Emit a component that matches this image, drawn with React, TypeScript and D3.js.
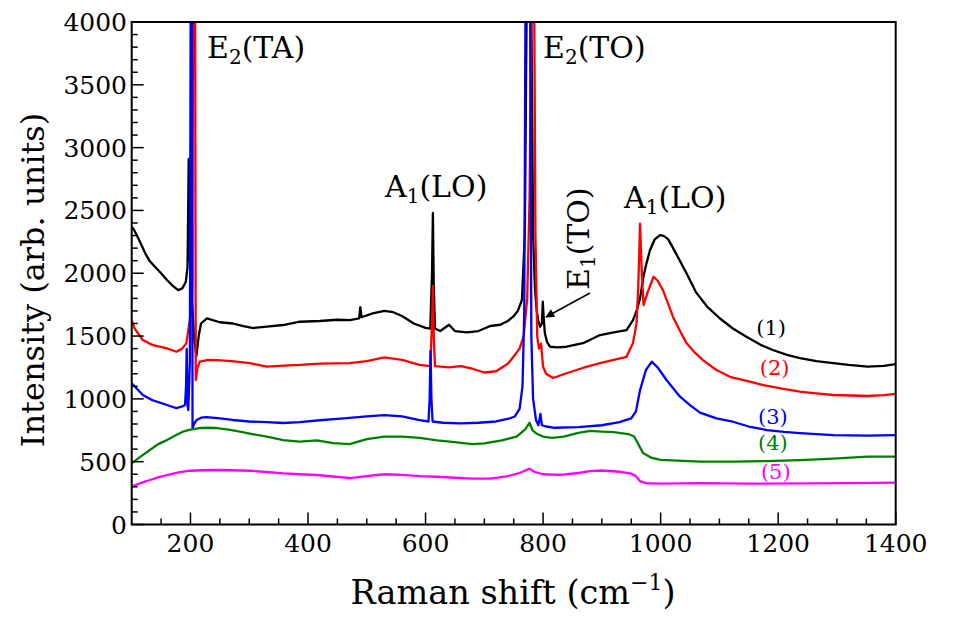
import React from 'react';
import * as d3 from 'd3';

const W = 959;
const H = 638;
const xDomain: [number, number] = [100, 1400];
const yDomain: [number, number] = [0, 4000];
const xMajorTicks = [200, 400, 600, 800, 1000, 1200, 1400];
const yMajorTicks = [0, 500, 1000, 1500, 2000, 2500, 3000, 3500, 4000];

// (1) black
const series1: [number, number][] = [
  [100, 2370], [104, 2345], [110, 2290], [117, 2220], [124, 2150], [131, 2095], [140, 2050], [150, 2000], [160, 1946], [170, 1900],
  [179, 1866], [186, 1880], [192, 1930], [195, 2050], [197, 2910], [198.5, 2100], [200, 2300], [202, 1800],
  [206, 1500], [210, 1340], [214, 1500], [218, 1600], [228, 1640], [250, 1610], [272, 1600], [290, 1580],
  [307, 1564], [330, 1575], [358, 1588], [386, 1614], [420, 1620], [450, 1630], [471, 1627], [487, 1640],
  [489, 1730], [491, 1650], [510, 1680], [530, 1700], [545, 1690], [560, 1660], [580, 1600], [600, 1565],
  [608, 1560], [611, 2000], [612.5, 2480], [614, 1900], [616, 1560], [625, 1540], [640, 1590], [650, 1540],
  [670, 1530], [690, 1540], [710, 1580], [727, 1590], [740, 1620], [749, 1654], [757, 1700], [764, 1787],
  [769, 2320], [772, 4100], [776, 7000], [780, 4100], [783, 2300], [786, 1900], [789, 1707], [792, 1620],
  [795, 1574], [798, 1600], [799.5, 1773], [801, 1650], [803, 1522], [807, 1450], [812, 1415], [825, 1410],
  [840, 1415], [868, 1443], [897, 1508], [920, 1530], [942, 1548], [953, 1627], [959, 1700], [965, 1800],
  [971, 1980], [976, 2080], [982, 2185], [990, 2270], [999, 2304], [1006, 2295], [1013, 2270], [1027, 2150],
  [1044, 2000], [1060, 1850], [1080, 1730], [1101, 1640], [1123, 1560], [1146, 1495], [1170, 1430],
  [1191, 1389], [1215, 1350], [1237, 1325], [1265, 1300], [1294, 1285], [1320, 1270], [1352, 1256],
  [1380, 1262], [1400, 1277],
];

// (2) red
const series2: [number, number][] = [
  [100, 1627], [105, 1560], [119, 1468], [135, 1430], [160, 1402], [176, 1375], [186, 1400], [193, 1444],
  [198, 1600], [201, 1700], [203, 1900], [204.5, 4100], [206.5, 6000], [208, 4100], [209, 1150], [212, 1250],
  [216, 1296], [230, 1310], [245, 1309], [270, 1300], [301, 1285], [330, 1256], [358, 1265], [386, 1270],
  [420, 1280], [471, 1285], [500, 1300], [530, 1330], [560, 1310], [590, 1270], [608, 1260], [611, 1600],
  [612.5, 1900], [614, 1500], [616, 1260], [640, 1250], [660, 1260], [680, 1240], [700, 1210], [720, 1220],
  [740, 1280], [752, 1350], [760, 1400], [767, 1500], [773, 1800], [777, 2600], [780, 4100], [782.5, 7000],
  [785, 4100], [787, 2300], [790, 1500], [793, 1400], [796.5, 1440], [800, 1256], [805, 1200], [817, 1166],
  [840, 1204], [870, 1250], [897, 1285], [920, 1310], [942, 1335], [953, 1444], [959, 1600], [962, 1900],
  [965, 2395], [968, 2000], [971, 1747], [978, 1850], [988, 1972], [995, 1940], [1004, 1866], [1021, 1654],
  [1033, 1540], [1044, 1444], [1058, 1370], [1072, 1309], [1095, 1230], [1118, 1176], [1150, 1140],
  [1175, 1110], [1209, 1080], [1237, 1057], [1265, 1043], [1294, 1031], [1352, 1023], [1380, 1030], [1400, 1039],
];

// (3) blue
const series3: [number, number][] = [
  [100, 1124], [110, 1075], [119, 1031], [135, 990], [160, 951], [176, 927], [186, 940], [190.7, 951],
  [192.5, 1100], [193.6, 1397], [195, 950], [196.3, 911], [199, 1300], [200.3, 4100], [201.5, 6000],
  [202.7, 4100], [203.5, 768], [206, 800], [210.6, 832], [218, 850], [227.6, 855], [250, 845], [272, 832],
  [300, 820], [330, 815], [358, 808], [386, 815], [420, 830], [450, 840], [471, 848], [500, 860], [530, 870],
  [560, 860], [590, 830], [605, 820], [607, 1000], [608.5, 1380], [610, 1000], [612, 820], [630, 810],
  [660, 805], [690, 810], [720, 820], [740, 840], [752, 860], [760, 920], [765, 1100], [768, 1700],
  [770, 4100], [774, 7000], [778, 4100], [780, 1500], [783, 1000], [788, 830], [792, 790], [795.5, 880],
  [798, 790], [805, 780], [820, 770], [860, 775], [900, 790], [930, 815], [950, 845], [958, 900],
  [965, 1070], [975, 1230], [985, 1296], [995, 1250], [1010, 1150], [1033, 1017], [1050, 950], [1067, 890],
  [1095, 845], [1123, 818], [1150, 780], [1181, 752], [1210, 738], [1237, 728], [1294, 712], [1352, 707],
  [1400, 712],
];

// (4) green
const series4: [number, number][] = [
  [100, 487], [115, 540], [131, 593], [145, 640], [160, 672], [175, 710], [187, 739], [200, 755], [216, 768],
  [230, 770], [245, 768], [265, 755], [284, 739], [305, 720], [330, 699], [358, 672], [386, 659], [415, 670],
  [443, 648], [471, 640], [500, 680], [530, 700], [560, 700], [590, 690], [620, 670], [650, 655], [680, 640],
  [700, 645], [730, 670], [755, 700], [770, 760], [777, 810], [782, 750], [790, 720], [800, 700], [815, 690],
  [835, 700], [860, 730], [880, 745], [900, 740], [920, 735], [945, 720], [955, 700], [962, 640], [970, 570],
  [985, 530], [1000, 515], [1067, 500], [1123, 500], [1180, 505], [1237, 513], [1294, 525], [1352, 540],
  [1400, 540],
];

// (5) magenta
const series5: [number, number][] = [
  [100, 301], [115, 330], [131, 354], [145, 375], [160, 394], [180, 415], [199, 428], [220, 432], [245, 434],
  [270, 432], [301, 428], [330, 418], [358, 407], [386, 400], [415, 394], [443, 382], [471, 370], [500, 385],
  [530, 400], [560, 395], [590, 385], [620, 380], [650, 372], [680, 365], [710, 365], [740, 385], [760, 410],
  [770, 430], [777, 445], [785, 420], [800, 400], [830, 395], [860, 410], [880, 425], [900, 430], [930, 420],
  [950, 405], [958, 385], [965, 345], [975, 330], [1000, 325], [1067, 330], [1150, 325], [1250, 328],
  [1320, 330], [1400, 333],
];

const allSeries = [series1, series2, series3, series4, series5];
const seriesColors = ['#000000', '#ff0000', '#0000ff', '#008000', '#ff00ff'];
const seriesLabels = ['(1)', '(2)', '(3)', '(4)', '(5)'];
const seriesLabelAnchors: [number, number][] = [
  [1188, 1564], [1194, 1245], [1191, 858], [1191, 649], [1196, 420],
];

const FONT = '"DejaVu Serif", serif';

export default function App() {
  const left = 131.7;
  const right = 895.7;
  const top = 22;
  const bottom = 524.5;

  const x = d3.scaleLinear().domain(xDomain).range([left, right]);
  const y = d3.scaleLinear().domain(yDomain).range([bottom, top]);

  const line = d3
    .line<[number, number]>()
    .x((d) => x(d[0]))
    .y((d) => y(d[1]))
    .curve(d3.curveLinear);

  const xMinor = d3.range(150, 1400, 50).filter((v) => v % 200 !== 0);
  const yMinor = d3.range(100, 4000, 100).filter((v) => v % 500 !== 0);

  const tickFs = 25;
  const labFs = 30;
  const subFs = 20;
  const tf: React.CSSProperties = { fontFamily: FONT };

  return (
    <svg
      width={W}
      height={H}
      viewBox={`0 0 ${W} ${H}`}
      style={{ position: 'absolute', left: 0, top: 0, background: '#fff', fontFamily: FONT }}
    >
      <defs>
        <clipPath id="plotClip">
          <rect x={left} y={top} width={right - left} height={bottom - top} />
        </clipPath>
        <marker id="arrowHead" viewBox="0 0 10 10" refX="9" refY="5" markerWidth="14" markerHeight="9" orient="auto" markerUnits="userSpaceOnUse">
          <path d="M0,0 L10,5 L0,10 z" fill="#000" />
        </marker>
      </defs>
      <rect x={0} y={0} width={W} height={H} fill="#fff" />

      <g clipPath="url(#plotClip)">
        {allSeries.map((s, i) => (
          <path key={i} d={line(s) || ''} fill="none" stroke={seriesColors[i]} strokeWidth={2.3} strokeLinejoin="round" />
        ))}
      </g>

      {/* frame */}
      <rect x={left} y={top} width={right - left} height={bottom - top} fill="none" stroke="#000" strokeWidth={2} />

      {/* x ticks */}
      {xMajorTicks.map((t) => (
        <g key={'xm' + t}>
          <line x1={x(t)} x2={x(t)} y1={bottom} y2={bottom - 12} stroke="#000" strokeWidth={1.5} />
          <text x={x(t)} y={552} fontSize={tickFs} textAnchor="middle" style={tf}>
            {t}
          </text>
        </g>
      ))}
      {xMinor.map((t) => (
        <line key={'xn' + t} x1={x(t)} x2={x(t)} y1={bottom} y2={bottom - 6} stroke="#000" strokeWidth={1.5} />
      ))}

      {/* y ticks */}
      {yMajorTicks.map((t) => (
        <g key={'ym' + t}>
          <line x1={left} x2={left + 12} y1={y(t)} y2={y(t)} stroke="#000" strokeWidth={1.5} />
          <text x={127} y={y(t)} dy="0.36em" fontSize={tickFs} textAnchor="end" style={tf}>
            {t}
          </text>
        </g>
      ))}
      {yMinor.map((t) => (
        <line key={'yn' + t} x1={left} x2={left + 6} y1={y(t)} y2={y(t)} stroke="#000" strokeWidth={1.5} />
      ))}

      {/* axis titles */}
      <text x={513} y={604} fontSize={33.5} textAnchor="middle" style={tf}>
        Raman shift (cm
        <tspan fontSize={22} dy={-14}>−1</tspan>
        <tspan dy={14}>)</tspan>
      </text>
      <text transform="translate(44,280) rotate(-90)" fontSize={32} textAnchor="middle" style={tf}>
        Intensity (arb. units)
      </text>

      {/* peak labels */}
      <text x={207} y={58} fontSize={labFs} style={tf}>
        E<tspan fontSize={subFs} dy={6}>2</tspan><tspan dy={-6}>(TA)</tspan>
      </text>
      <text x={543} y={58} fontSize={labFs} style={tf}>
        E<tspan fontSize={subFs} dy={6}>2</tspan><tspan dy={-6}>(TO)</tspan>
      </text>
      <text x={385} y={197} fontSize={labFs} style={tf}>
        A<tspan fontSize={subFs} dy={6}>1</tspan><tspan dy={-6}>(LO)</tspan>
      </text>
      <text x={624} y={208} fontSize={labFs} style={tf}>
        A<tspan fontSize={subFs} dy={6}>1</tspan><tspan dy={-6}>(LO)</tspan>
      </text>
      <text transform="translate(589,290) rotate(-90)" fontSize={labFs} style={tf}>
        E<tspan fontSize={subFs} dy={6}>1</tspan><tspan dy={-6}>(TO)</tspan>
      </text>
      <line x1={590} y1={293} x2={546} y2={317} stroke="#000" strokeWidth={1.5} markerEnd="url(#arrowHead)" />

      {/* series labels */}
      {seriesLabels.map((l, i) => (
        <text
          key={l}
          x={x(seriesLabelAnchors[i][0])}
          y={y(seriesLabelAnchors[i][1])}
          dy="0.35em"
          fontSize={21}
          textAnchor="middle"
          fill={seriesColors[i]}
          style={tf}
        >
          {l}
        </text>
      ))}
    </svg>
  );
}
